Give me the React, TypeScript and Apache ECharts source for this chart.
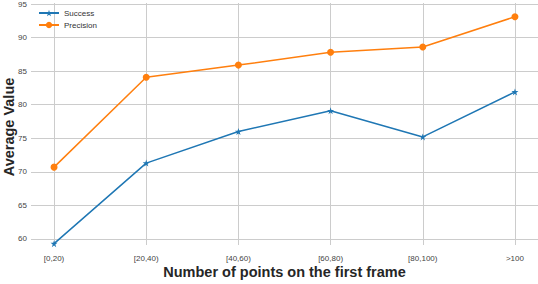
import React, { useEffect, useRef } from "react";
import * as echarts from "echarts";

const categories = ["[0,20)", "[20,40)", "[40,60)", "[60,80)", "[80,100)", ">100"];
const successValues = [59.3, 71.3, 76.0, 79.1, 75.2, 81.9];
const precisionValues = [70.7, 84.1, 85.9, 87.8, 88.6, 93.1];
const yTicks = [60, 65, 70, 75, 80, 85, 90, 95];
const xTicks = [0, 1, 2, 3, 4, 5];

const STAR =
  "path://M50,0 L61.8,36.2 L100,36.2 L69.1,58.6 L80.9,95.1 L50,72.7 L19.1,95.1 L30.9,58.6 L0,36.2 L38.2,36.2 Z";

export default function App() {
  const ref = useRef<HTMLDivElement>(null);
  useEffect(() => {
    if (!ref.current) return;
    const chart = echarts.init(ref.current, undefined, { renderer: "svg" });
    const font = "'Liberation Sans', Arial, sans-serif";
    chart.setOption({
      animation: false,
      backgroundColor: "#ffffff",
      grid: { left: 31, right: 0, top: 0, bottom: 39, containLabel: false },
      legend: {
        orient: "vertical",
        left: 33,
        top: 4,
        itemWidth: 20,
        itemHeight: 8,
        itemGap: 4,
        textStyle: { fontFamily: font, fontSize: 8, color: "#333" },
        data: ["Success", "Precision"],
      },
      xAxis: {
        type: "value",
        min: -0.25,
        max: 5.25,
        axisLine: { show: false },
        axisTick: { show: false, customValues: xTicks },
        axisLabel: {
          customValues: xTicks,
          formatter: (v: number) => categories[Math.round(v)] ?? "",
          fontFamily: font,
          fontSize: 8,
          color: "#444",
          margin: 9,
        },
        splitLine: { show: true, customValues: xTicks, lineStyle: { color: "#cccccc", width: 1 } },
      },
      yAxis: {
        type: "value",
        min: 59.1,
        max: 95.15,
        axisLine: { show: false },
        axisTick: { show: false, customValues: yTicks },
        axisLabel: {
          customValues: yTicks,
          fontFamily: font,
          fontSize: 8,
          color: "#444",
          margin: 4,
        },
        splitLine: { show: true, customValues: yTicks, lineStyle: { color: "#cccccc", width: 1 } },
      },
      graphic: [
        {
          type: "text",
          x: 284.5,
          y: 272,
          style: {
            text: "Number of points on the first frame",
            font: `bold 14.5px ${font}`,
            fill: "#262626",
            textAlign: "center",
            textVerticalAlign: "middle",
          },
        },
        {
          type: "text",
          x: 9,
          y: 127,
          rotation: Math.PI / 2,
          style: {
            text: "Average Value",
            font: `bold 14.5px ${font}`,
            fill: "#262626",
            textAlign: "center",
            textVerticalAlign: "middle",
          },
        },
      ],
      series: [
        {
          name: "Success",
          type: "line",
          data: successValues.map((v, i) => [i, v]),
          symbol: STAR,
          symbolSize: 7,
          itemStyle: { color: "#1f77b4" },
          lineStyle: { color: "#1f77b4", width: 1.5 },
        },
        {
          name: "Precision",
          type: "line",
          data: precisionValues.map((v, i) => [i, v]),
          symbol: "circle",
          symbolSize: 7,
          itemStyle: { color: "#ff7f0e" },
          lineStyle: { color: "#ff7f0e", width: 1.5 },
        },
      ],
    });
    return () => chart.dispose();
  }, []);
  return (
    <div
      ref={ref}
      style={{ position: "fixed", left: 0, top: 0, width: 538, height: 284 }}
    />
  );
}
